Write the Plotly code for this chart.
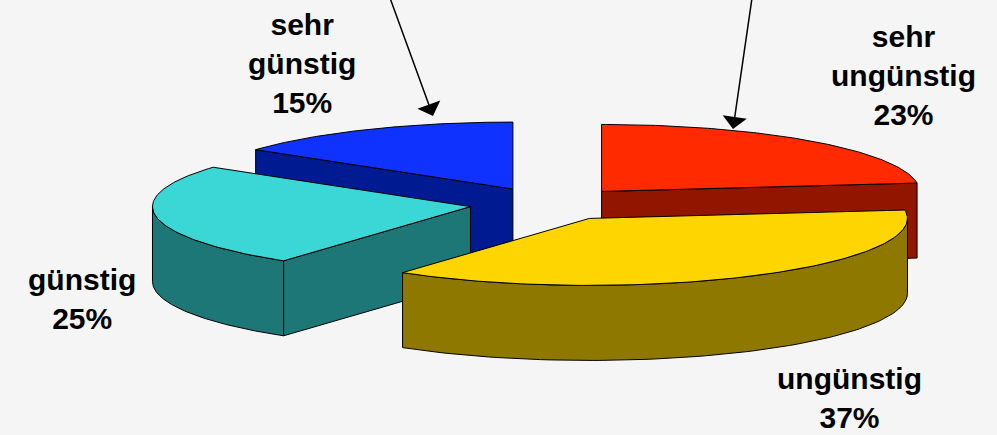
import numpy as np
import plotly.graph_objects as go

# ---------------- data ----------------
labels = ["sehr ungünstig", "ungünstig", "günstig", "sehr günstig"]
values = [23, 37, 25, 15]

# ---------------- styles ----------------
top_colors = ["#ff2a00", "#ffd500", "#3bd6d6", "#0f32ff"]
side_colors = ["#921500", "#8f7800", "#1d7777", "#001a91"]
label_pos = [(903, 75), (849, 398), (82, 299), (302, 63)]

W, Hh = 997, 435
CX, CY = 549, 204      # pie centre (px)
A, B = 318, 67         # ellipse radii
DEPTH = 75             # thickness of the pie
PULL = 0.25            # explosion as fraction of radius
BG = "#f5f5f5"

total = float(sum(values))
fracs = [v / total for v in values]
starts = np.cumsum([0] + fracs[:-1]) * 2 * np.pi
ends = np.cumsum(fracs) * 2 * np.pi
mids = (starts + ends) / 2

fig = go.Figure()


def rim(c, th, dy=0.0):
    return c[0] + A * np.sin(th), c[1] - B * np.cos(th) + dy


def poly(xs, ys, fill):
    fig.add_trace(go.Scatter(
        x=list(xs), y=list(ys), mode="lines", fill="toself",
        fillcolor=fill, line=dict(color="black", width=1),
        hoverinfo="skip", showlegend=False))


order = sorted(range(len(values)), key=lambda i: -np.cos(mids[i]))
for i in order:
    ts, te, tm = starts[i], ends[i], mids[i]
    c = (CX + PULL * A * np.sin(tm), CY - PULL * B * np.cos(tm))
    # radial faces
    for th, vis in ((ts, np.sin(ts) < -1e-9), (te, np.sin(te) > 1e-9)):
        if vis:
            rx, ry = rim(c, th)
            poly([c[0], rx, rx, c[0], c[0]],
                 [c[1], ry, ry + DEPTH, c[1] + DEPTH, c[1]], side_colors[i])
    # outer curved side (front half only)
    lo, hi = max(ts, np.pi / 2), min(te, 3 * np.pi / 2)
    if hi > lo:
        th = np.linspace(lo, hi, 80)
        tx, ty = rim(c, th)
        bx, by = rim(c, th[::-1], DEPTH)
        poly(np.concatenate([tx, bx, tx[:1]]),
             np.concatenate([ty, by, ty[:1]]), side_colors[i])
    # top surface
    th = np.linspace(ts, te, 120)
    tx, ty = rim(c, th)
    poly(np.concatenate([[c[0]], tx, [c[0]]]),
         np.concatenate([[c[1]], ty, [c[1]]]), top_colors[i])

annotations = []
for i, lab in enumerate(labels):
    pct = round(100 * values[i] / total)
    txt = lab.replace(" ", "<br>") + "<br>" + f"{pct}%"
    annotations.append(dict(
        x=label_pos[i][0], y=label_pos[i][1], xref="x", yref="y",
        text=txt, showarrow=False, align="center",
        font=dict(family="Liberation Sans, Arial, sans-serif", size=30,
                  color="black", weight="bold")))

# pointer arrows from the top edge
for tip, tail in (((433, 116), (390, -2)), ((733, 129), (752, -2))):
    annotations.append(dict(
        x=tip[0], y=tip[1], ax=tail[0], ay=tail[1],
        xref="x", yref="y", axref="x", ayref="y", text="",
        showarrow=True, arrowhead=1, arrowsize=2.7, arrowwidth=1.5,
        arrowcolor="black"))

fig.update_layout(
    width=W, height=Hh,
    margin=dict(l=0, r=0, t=0, b=0),
    paper_bgcolor=BG, plot_bgcolor=BG,
    xaxis=dict(range=[0, W], visible=False, fixedrange=True),
    yaxis=dict(range=[Hh, 0], visible=False, fixedrange=True),
    annotations=annotations,
    showlegend=False,
)

fig.write_html(
    "out.html",
    config={"displayModeBar": False},
    post_script="document.body.style.margin='0px';"
                "document.body.style.overflow='hidden';",
)
